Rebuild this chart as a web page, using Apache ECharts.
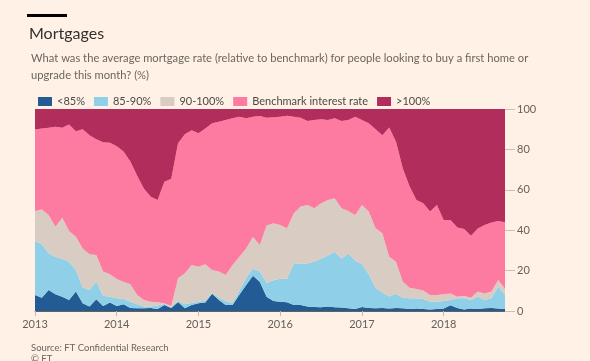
<!DOCTYPE html>
<html>
<head>
<meta charset="utf-8">
<style>
html,body{margin:0;padding:0;background:#FFF1E5;}
#c{width:590px;height:361px;}
</style>
<script src="https://cdn.jsdelivr.net/npm/echarts@6/dist/echarts.min.js"></script>
</head>
<body>
<div id="c"></div>
<script>
// Monthly, Jan 2013 - Oct 2018
const months = [];
for (let y = 2013; y <= 2018; y++) {
  for (let m = 1; m <= 12; m++) {
    if (y === 2018 && m > 10) break;
    months.push(y + '-' + (m < 10 ? '0' + m : m));
  }
}
const seriesNames = ['<85%', '85-90%', '90-100%', 'Benchmark interest rate', '>100%'];
const below85 = [7.9,6.6,10.4,8.3,7.1,5.4,9.6,3.8,2.2,5.8,2.5,4.2,2.5,3.3,1.5,1.3,1.3,1.5,1.0,3.0,1.5,4.5,1.3,3.0,3.8,4.2,8.5,5.4,3.0,3.0,8.0,12.9,17.5,14.5,7.1,4.9,4.6,4.3,3.0,3.0,2.2,2.0,1.8,2.2,1.8,1.7,1.3,1.0,2.0,1.5,1.3,1.5,1.2,1.5,1.3,1.0,1.2,1.0,0.8,1.0,1.2,2.8,1.5,0.8,1.2,1.0,1.3,1.5,1.2,1.0];
const r85to90 = [26.7,26.4,18.2,18.6,18.7,19.0,10.7,7.8,8.2,8.7,5.1,2.9,3.8,2.6,3.1,2.0,0.9,0.7,1.7,0.5,0.3,0.5,2.0,1.0,0.8,1.0,0.5,1.1,2.0,1.0,2.0,3.6,3.5,5.0,6.7,10.3,11.4,11.7,20.6,20.5,21.3,22.5,24.2,25.3,27.4,24.3,27.2,24.0,21.2,16.7,10.2,7.5,6.0,7.0,5.2,5.3,5.1,4.9,3.8,3.6,3.7,2.6,4.8,5.5,4.2,6.1,4.1,4.8,10.8,7.0];
const r90to100 = [14.9,17.3,18.9,14.8,20.4,15.2,16.5,19.4,17.7,13.2,11.9,11.1,9.5,8.6,8.6,4.6,3.2,2.4,1.6,0.3,0.7,11.2,15.4,18.8,17.3,17.9,11.3,13.0,12.8,18.8,16.9,14.5,15.8,13.2,28.5,28.2,26.6,25.0,24.8,28.2,29.0,26.4,27.3,27.5,26.6,24.9,21.0,22.5,29.3,31.0,29.5,29.5,19.7,15.9,8.0,5.2,4.6,4.3,3.3,3.3,3.4,3.3,0.8,1.3,1.2,2.5,3.3,3.3,3.3,3.2];
const benchmark = [40.4,40.0,43.2,49.5,44.5,52.7,52.2,59.0,58.9,57.3,64.0,65.1,65.7,64.5,60.8,59.1,55.1,51.9,50.7,60.2,63.0,66.8,68.8,66.7,66.1,67.3,72.6,74.2,76.8,72.6,69.3,64.4,59.4,63.8,53.4,52.5,53.6,55.6,47.8,44.0,41.6,43.7,41.6,39.6,39.6,43.2,45.1,48.7,42.0,43.7,49.0,48.5,63.9,59.4,56.1,50.1,44.1,43.1,41.3,44.6,36.7,36.3,34.2,33.0,30.7,31.3,33.9,34.2,29.3,32.7];
const above100 = [10.1,9.7,9.3,8.8,9.3,7.7,11.0,10.0,13.0,15.0,16.5,16.7,18.5,21.0,26.0,33.0,39.5,43.5,45.0,36.0,34.5,17.0,12.5,10.5,12.0,9.6,7.1,6.3,5.4,4.6,3.8,4.6,3.8,3.5,4.3,4.1,3.8,3.4,3.8,4.3,5.9,5.4,5.1,5.4,4.6,5.9,5.4,3.8,5.5,7.1,10.0,13.0,9.2,16.2,29.4,38.4,45.0,46.7,50.8,47.5,55.0,55.0,58.7,59.4,62.7,59.1,57.4,56.2,55.4,56.1];
const yTicks = [0, 20, 40, 60, 80, 100];

const colors = ['#235b94', '#8fd0e8', '#d9cdc3', '#fd7aa0', '#b02d5c'];
const dataSets = [below85, r85to90, r90to100, benchmark, above100];

const chart = echarts.init(document.getElementById('c'), null, {renderer: 'canvas'});
const font = 'Lato, "Noto Sans", sans-serif';
const yearTick = (i, v) => /-01$/.test(v);

chart.setOption({
  backgroundColor: '#FFF1E5',
  animation: false,
  textStyle: {fontFamily: font},
  graphic: [
    {type: 'rect', left: 27, top: 14, shape: {width: 40, height: 3}, style: {fill: '#000'}}
  ],
  title: [
    {text: 'Mortgages', left: 24, top: 21, textStyle: {fontFamily: font, fontSize: 16, fontWeight: 'normal', color: '#33302e'}},
    {text: 'What was the average mortgage rate (relative to benchmark) for people looking to buy a first home or\nupgrade this month? (%)',
     left: 26, top: 45, textStyle: {fontFamily: font, fontSize: 11.2, fontWeight: 'normal', color: '#6b6560', lineHeight: 17}},
    {text: 'Source: FT Confidential Research\n© FT', left: 26, top: 337,
     textStyle: {fontFamily: font, fontSize: 9.5, fontWeight: 'normal', color: '#6b6560', lineHeight: 11}}
  ],
  legend: {
    left: 33, top: 91, icon: 'rect', itemWidth: 14, itemHeight: 9, itemGap: 9,
    textStyle: {fontFamily: font, fontSize: 11, color: '#4d4845'},
    data: seriesNames
  },
  grid: {left: 35, right: 85, top: 109, bottom: 50, containLabel: false},
  xAxis: {
    type: 'category', data: months, boundaryGap: false,
    axisLine: {show: true, lineStyle: {color: '#66605c', width: 1}},
    axisTick: {show: true, interval: yearTick, length: 5, lineStyle: {color: '#c2b8ae'}},
    axisLabel: {interval: yearTick, formatter: v => v.slice(0, 4), color: '#66605c', fontSize: 11, margin: 8, fontFamily: font},
    splitLine: {show: false}
  },
  yAxis: {
    type: 'value', position: 'right', min: 0, max: 100, interval: 20,
    axisLine: {show: false},
    axisTick: {show: true, length: 10, lineStyle: {color: '#c9c0b7'}},
    axisLabel: {color: '#66605c', fontSize: 11, margin: 12, fontFamily: font,
      formatter: v => yTicks.indexOf(v) >= 0 ? String(v) : ''},
    splitLine: {show: false}
  },
  series: dataSets.map((d, k) => ({
    name: seriesNames[k], type: 'line', stack: 'total', data: d,
    symbol: 'none', lineStyle: {width: 0}, areaStyle: {color: colors[k], opacity: 1},
    itemStyle: {color: colors[k]}
  }))
});
</script>
</body>
</html>
